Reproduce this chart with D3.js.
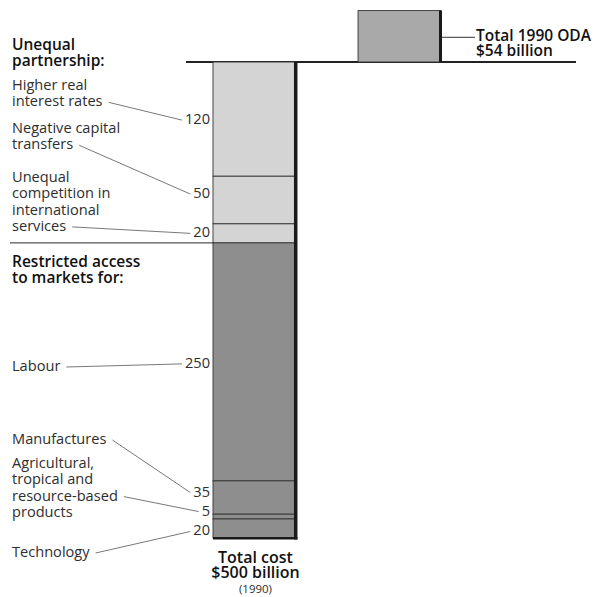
<!DOCTYPE html>
<html>
<head>
<meta charset="utf-8">
<style>
  body { margin: 0; background: #fff; }
  svg text { font-family: "Open Sans", "Noto Sans", sans-serif; fill: #2e2e2e; }
</style>
</head>
<body>
<svg width="608" height="597"></svg>
<script src="https://d3js.org/d3.v7.min.js"></script>
<script>
// cost of the unequal partnership vs aid, 1990 ($ billion)
var categories = ["Higher real interest rates", "Negative capital transfers",
  "Unequal competition in international services", "Labour", "Manufactures",
  "Agricultural, tropical and resource-based products", "Technology"];
var values = [120, 50, 20, 250, 35, 5, 20];
var groups = ["partnership", "partnership", "partnership", "markets", "markets", "markets", "markets"];
var labelLines = [
  ["Higher real", "interest rates"],
  ["Negative capital", "transfers"],
  ["Unequal", "competition in", "international", "services"],
  ["Labour"],
  ["Manufactures"],
  ["Agricultural,", "tropical and", "resource-based", "products"],
  ["Technology"]
];
var odaValue = 54;
var totalCost = 500;

var svg = d3.select("svg");

var baseY = 62;
var y = d3.scaleLinear().domain([0, totalCost]).range([baseY, 538]);
var x = d3.scaleBand().domain(["cost", "oda"]).range([213, 441]).paddingInner(0.428);
var barW = x.bandwidth();

var colour = d3.scaleOrdinal().domain(["partnership", "markets"]).range(["#d4d4d4", "#8e8e8e"]);

// stack the segments
var stacked = [];
var acc = 0;
values.forEach(function(v, i) {
  stacked.push({ name: categories[i], value: v, group: groups[i], y0: acc, y1: acc + v, lines: labelLines[i] });
  acc += v;
});

// where the text blocks sit (baseline of first line) and where the leader starts
var textTop = [90, 133, 182, 371, 444, 468, 557];
var leaderFromLine = [1, 1, 3, 0, 0, 2, 0];
var valueNudge = [5, -2, 4, 6, -1, -1, 7];
var lineH = 16.3;
var fs = "14.6px";

// headings
var heads = [["Unequal", "partnership:"], ["Restricted access", "to markets for:"]];
var headY = [50, 267];
heads.forEach(function(h, j) {
  svg.append("text").attr("x", 12).attr("y", headY[j])
    .style("font-size", "15.5px").style("font-weight", 600).style("fill", "#111")
    .selectAll("tspan").data(h).join("tspan")
    .attr("x", 12).attr("dy", function(d, k) { return k ? 16 : 0; })
    .text(function(d) { return d; });
});

// separator between the two groups
var sepY = y(d3.sum(values.slice(0, 3)));
svg.append("line").attr("x1", 10).attr("x2", x("cost")).attr("y1", sepY).attr("y2", sepY)
  .attr("stroke", "#555").attr("stroke-width", 1.2);

// baseline
svg.append("line").attr("x1", 186).attr("x2", 576).attr("y1", baseY).attr("y2", baseY)
  .attr("stroke", "#222").attr("stroke-width", 2);

// segments
svg.selectAll("rect.seg").data(stacked).join("rect").attr("class", "seg")
  .attr("x", x("cost")).attr("width", barW)
  .attr("y", function(d) { return y(d.y0); })
  .attr("height", function(d) { return y(d.y1) - y(d.y0); })
  .attr("fill", function(d) { return colour(d.group); })
  .attr("stroke", "#333").attr("stroke-width", 0.9);

// shadow along right and bottom
svg.append("rect").attr("x", x("cost") + barW - 2).attr("y", baseY).attr("width", 3.5)
  .attr("height", y(totalCost) - baseY + 1.5).attr("fill", "#1a1a1a");
svg.append("rect").attr("x", x("cost")).attr("y", y(totalCost) - 1).attr("width", barW + 1.5)
  .attr("height", 2.5).attr("fill", "#1a1a1a");

// value labels
svg.selectAll("text.val").data(stacked).join("text").attr("class", "val")
  .attr("x", x("cost") - 3)
  .attr("y", function(d, i) { return y((d.y0 + d.y1) / 2) + valueNudge[i]; })
  .attr("text-anchor", "end").style("font-size", fs)
  .text(function(d) { return d.value; });

// category labels and leaders
stacked.forEach(function(d, i) {
  var t = svg.append("text").attr("x", 12).attr("y", textTop[i]).style("font-size", fs);
  t.selectAll("tspan").data(d.lines).join("tspan")
    .attr("x", 12).attr("dy", function(l, k) { return k ? lineH : 0; })
    .text(function(l) { return l; });
  var tspans = t.selectAll("tspan").nodes();
  var ln = tspans[leaderFromLine[i]];
  var x1 = 12 + ln.getComputedTextLength() + 6;
  var ly = textTop[i] + leaderFromLine[i] * lineH - 4;
  var valNode = svg.selectAll("text.val").nodes()[i];
  var vb = valNode.getBBox();
  var x2 = vb.x - 3;
  var y2 = y((d.y0 + d.y1) / 2) + valueNudge[i] - 4;
  svg.append("line").attr("x1", x1).attr("y1", ly).attr("x2", x2).attr("y2", y2)
    .attr("stroke", "#555").attr("stroke-width", 0.8);
});

// ODA bar
var odaH = y(odaValue) - y(0);
svg.append("rect").attr("x", x("oda")).attr("width", barW)
  .attr("y", baseY - odaH).attr("height", odaH)
  .attr("fill", "#a9a9a9").attr("stroke", "#333").attr("stroke-width", 0.9);
svg.append("rect").attr("x", x("oda") + barW - 2).attr("y", baseY - odaH)
  .attr("width", 3).attr("height", odaH).attr("fill", "#1a1a1a");
var odaMid = baseY - odaH / 2 + 1;
svg.append("line").attr("x1", x("oda") + barW + 1).attr("x2", x("oda") + barW + 34)
  .attr("y1", odaMid).attr("y2", odaMid).attr("stroke", "#333").attr("stroke-width", 1);
svg.append("text").attr("x", x("oda") + barW + 35).attr("y", odaMid + 4)
  .style("font-size", "15.5px").style("font-weight", 600).style("fill", "#111")
  .selectAll("tspan").data(["Total 1990 ODA", "$" + odaValue + " billion"]).join("tspan")
  .attr("x", x("oda") + barW + 35).attr("dy", function(d, k) { return k ? 15 : 0; })
  .text(function(d) { return d; });

// total label under the main bar
var cx = x("cost") + barW / 2 + 1;
svg.append("text").attr("x", cx).attr("y", 563).attr("text-anchor", "middle")
  .style("font-size", "16px").style("font-weight", 600).style("fill", "#111")
  .selectAll("tspan").data(["Total cost", "$" + totalCost + " billion"]).join("tspan")
  .attr("x", cx).attr("dy", function(d, k) { return k ? 15 : 0; })
  .text(function(d) { return d; });
svg.append("text").attr("x", cx).attr("y", 593).attr("text-anchor", "middle")
  .style("font-size", "11.5px").text("(1990)");
</script>
</body>
</html>
